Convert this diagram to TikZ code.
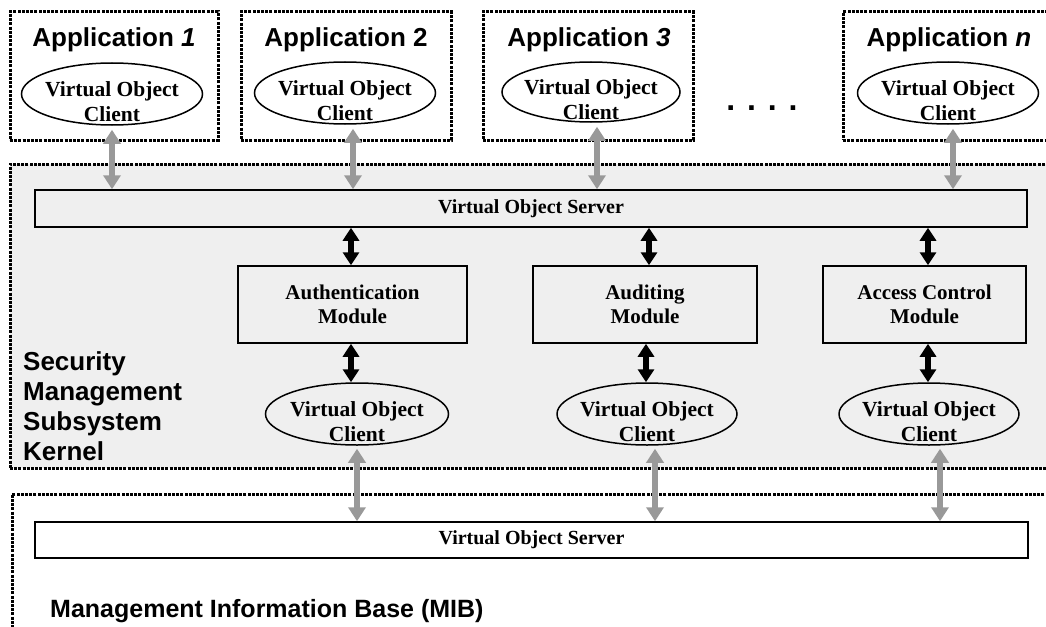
\documentclass[tikz,border=0pt]{standalone}
\usepackage{fontspec}
\setmainfont{Liberation Serif}
\newfontfamily\arialfont{Liberation Sans}
\usetikzlibrary{arrows.meta,shapes.geometric}
\definecolor{kerngray}{HTML}{EFEFEF}
\definecolor{arrgray}{HTML}{999999}
\begin{document}
\begin{tikzpicture}[x=1pt,y=-1pt,
  dotbox/.style={draw=black, line width=3pt, dash pattern=on 3pt off 1.2pt, inner sep=0pt},
  plainbox/.style={draw=black, line width=1.5pt, inner sep=0pt, align=center,
    font=\fontsize{21}{24}\selectfont\bfseries},
  vocell/.style={draw=black, ellipse, line width=1.5pt, inner sep=0pt,
    minimum width=181pt, minimum height=62pt},
  voctext/.style={inner sep=0pt, align=center, font=\fontsize{21.5}{25}\selectfont\bfseries},
  apptitle/.style={inner sep=0pt, font=\arialfont\fontsize{26}{30}\selectfont\bfseries},
  biglabel/.style={inner sep=0pt, align=left, font=\arialfont\fontsize{26}{30}\selectfont\bfseries},
  grayarr/.style={draw=arrgray, line width=6pt,
    {Triangle[width=17pt,length=14pt]}-{Triangle[width=17pt,length=14pt]}},
  blackarr/.style={draw=black, line width=6pt,
    {Triangle[width=16pt,length=13pt]}-{Triangle[width=16pt,length=13pt]}}
]
\useasboundingbox (0,0) rectangle (1046,626);
\clip (0,0) rectangle (1046,626);

% kernel and MIB containers
\node[dotbox, fill=kerngray, minimum width=1050pt, minimum height=304pt] (kernel) at (535,316) {};
\node[dotbox, minimum width=1048pt, minimum height=146pt] (mib) at (536,567) {};

% application boxes
\node[dotbox, minimum width=208pt, minimum height=128pt] (a1) at (114,76) {};
\node[dotbox, minimum width=210pt, minimum height=128pt] (a2) at (346,76) {};
\node[dotbox, minimum width=210pt, minimum height=128pt] (a3) at (588,76) {};
\node[dotbox, minimum width=217pt, minimum height=128pt] (an) at (951.5,76) {};

\node[apptitle, anchor=base] (t1) at (114,47) {Application \textit{1}};
\node[apptitle, anchor=base] (t2) at (346,47) {Application 2};
\node[apptitle, anchor=base] (t3) at (589,47) {Application \textit{3}};
\node[apptitle, anchor=base] (tn) at (949,47) {Application \textit{n}};

\node[apptitle, anchor=base, font=\arialfont\fontsize{32}{36}\selectfont\bfseries] (dots) at (762,110) {. . . .};

% application clients
\node[vocell] (e1) at (112,94) {};
\node[vocell] (e2) at (345,93) {};
\node[vocell, minimum width=178pt, minimum height=60pt] (e3) at (591,92) {};
\node[vocell] (en) at (948,93) {};
\foreach \e in {e1,e2,e3,en}{
  \node[voctext] at ([yshift=-8pt]\e.center) {Virtual Object\\Client};
}

% virtual object server (kernel)
\node[plainbox, minimum width=992pt, minimum height=37pt, font=\fontsize{20}{24}\selectfont\bfseries] (vos) at (531,208.5) {Virtual Object Server};

% modules
\node[plainbox, minimum width=229pt, minimum height=77pt] (auth) at (352.5,304.5) {Authentication\\Module};
\node[plainbox, minimum width=224pt, minimum height=77pt] (aud) at (645,304.5) {Auditing\\Module};
\node[plainbox, minimum width=203pt, minimum height=77pt] (acc) at (924.5,304.5) {Access Control\\Module};

% kernel clients
\node[vocell, minimum width=183pt] (b1) at (357,414) {};
\node[vocell, minimum width=180pt] (b2) at (647,414) {};
\node[vocell, minimum width=180pt] (b3) at (929,414) {};
\foreach \e in {b1,b2,b3}{
  \node[voctext] at ([yshift=-8pt]\e.center) {Virtual Object\\Client};
}

% MIB virtual object server
\node[plainbox, fill=white, minimum width=993pt, minimum height=36pt, font=\fontsize{20}{24}\selectfont\bfseries] (mibvos) at (531.5,540) {Virtual Object Server};

% labels
\node[biglabel, anchor=south west] (klabel) at (23,461) {Security\\Management\\Subsystem\\Kernel};
\node[biglabel, anchor=base west, font=\arialfont\fontsize{25}{30}\selectfont\bfseries] (miblabel) at (50,617) {Management Information Base (MIB)};

% gray arrows: applications <-> server
\draw[grayarr] ([yshift=-4pt]e1.south) -- (e1.south |- vos.north);
\draw[grayarr] ([xshift=8pt,yshift=-4pt]e2.south) -- ([xshift=8pt]e2.south |- vos.north);
\draw[grayarr] ([xshift=6pt,yshift=-4pt]e3.south) -- ([xshift=6pt]e3.south |- vos.north);
\draw[grayarr] ([xshift=5pt,yshift=-4pt]en.south) -- ([xshift=5pt]en.south |- vos.north);

% black arrows: server <-> modules
\draw[blackarr] ([xshift=-1.5pt]auth.north |- vos.south) -- ([xshift=-1.5pt]auth.north);
\draw[blackarr] ([xshift=4pt]aud.north |- vos.south) -- ([xshift=4pt]aud.north);
\draw[blackarr] ([xshift=3.5pt]acc.north |- vos.south) -- ([xshift=3.5pt]acc.north);

% black arrows: modules <-> clients
\draw[blackarr] ([xshift=-1.5pt]auth.south) -- ([xshift=-1.5pt]auth.south |- b1.north);
\draw[blackarr] ([xshift=1pt]aud.south) -- ([xshift=1pt]aud.south |- b2.north);
\draw[blackarr] ([xshift=3.5pt]acc.south) -- ([xshift=3.5pt]acc.south |- b3.north);

% gray arrows: clients <-> MIB server
\draw[grayarr] ([yshift=-3pt]b1.south) -- (b1.south |- mibvos.north);
\draw[grayarr] ([xshift=8pt,yshift=-3pt]b2.south) -- ([xshift=8pt]b2.south |- mibvos.north);
\draw[grayarr] ([xshift=11pt,yshift=-3pt]b3.south) -- ([xshift=11pt]b3.south |- mibvos.north);
\end{tikzpicture}
\end{document}
